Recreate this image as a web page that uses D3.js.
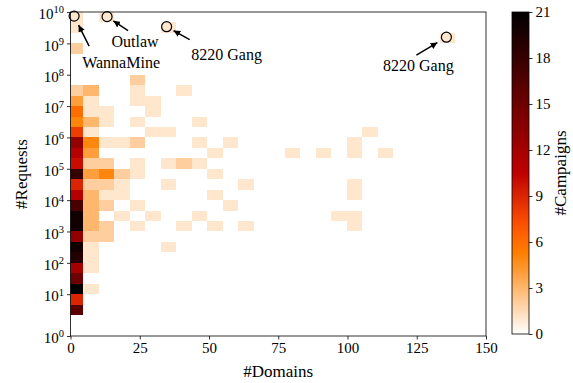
<!DOCTYPE html>
<html>
<head>
<meta charset="utf-8">
<script src="https://cdn.jsdelivr.net/npm/d3@7/dist/d3.min.js"></script>
<style>
  body { margin: 0; background: #fff; }
</style>
</head>
<body>
<svg id="chart" width="573" height="383" font-family="Liberation Serif"></svg>
<script>
// histogram bins: #Domains (linear) and log10(#Requests), three bins per decade
const xBinStart = -0.9, xBinWidth = 5.59;
const yBinStart = 1 / 3, yBinWidth = 1 / 3;

// campaign counts, one row per request bin (top row first), one column per domain bin
const counts = [
  [ 1,0,1,0,0,0,0,0,0,0,0,0,0,0,0,0,0,0,0,0,0,0,0,0,0],
  [ 1,0,0,0,0,0,1,0,0,0,0,0,0,0,0,0,0,0,0,0,0,0,0,0,0],
  [ 0,0,0,0,0,0,0,0,0,0,0,0,0,0,0,0,0,0,0,0,0,0,0,0,1],
  [ 2,0,0,0,0,0,0,0,0,0,0,0,0,0,0,0,0,0,0,0,0,0,0,0,0],
  [ 0,0,0,0,0,0,0,0,0,0,0,0,0,0,0,0,0,0,0,0,0,0,0,0,0],
  [ 0,0,0,0,0,0,0,0,0,0,0,0,0,0,0,0,0,0,0,0,0,0,0,0,0],
  [ 0,0,0,0,2,0,0,0,0,0,0,0,0,0,0,0,0,0,0,0,0,0,0,0,0],
  [ 2,3,0,0,1,0,0,1,0,0,0,0,0,0,0,0,0,0,0,0,0,0,0,0,0],
  [ 4,1,0,0,1,1,0,0,0,0,0,0,0,0,0,0,0,0,0,0,0,0,0,0,0],
  [ 6,1,1,0,0,1,0,0,0,0,0,0,0,0,0,0,0,0,0,0,0,0,0,0,0],
  [ 5,3,1,0,1,0,0,0,1,0,0,0,0,0,0,0,0,0,0,0,0,0,0,0,0],
  [ 8,1,0,0,0,1,1,0,0,0,0,0,0,0,0,0,0,0,0,1,0,0,0,0,0],
  [13,5,1,1,2,0,0,0,1,0,1,0,0,0,0,0,0,0,1,0,0,0,0,0,0],
  [11,4,0,0,0,0,0,0,0,1,0,0,0,0,1,0,1,0,1,0,1,0,0,0,0],
  [10,2,2,0,1,0,1,2,1,0,0,0,0,0,0,0,0,0,0,0,0,0,0,0,0],
  [18,4,5,2,1,0,0,0,0,1,0,0,0,0,0,0,0,0,0,0,0,0,0,0,0],
  [ 9,2,2,1,0,0,1,0,0,0,0,1,0,0,0,0,0,0,1,0,0,0,0,0,0],
  [11,3,1,1,0,0,0,0,0,1,0,0,0,0,0,0,0,0,1,0,0,0,0,0,0],
  [17,3,2,0,1,0,0,0,0,0,1,0,0,0,0,0,0,0,0,0,0,0,0,0,0],
  [20,3,0,1,0,1,0,0,1,0,0,0,0,0,0,0,0,1,1,0,0,0,0,0,0],
  [20,3,2,0,1,0,0,1,0,1,0,1,0,0,0,0,0,0,1,0,0,0,0,0,0],
  [13,2,2,0,0,0,0,0,0,0,0,0,0,0,0,0,0,0,0,0,0,0,0,0,0],
  [20,1,0,0,0,0,1,0,0,0,0,0,0,0,0,0,0,0,0,0,0,0,0,0,0],
  [19,1,0,0,0,0,0,0,0,0,0,0,0,0,0,0,0,0,0,0,0,0,0,0,0],
  [12,1,0,0,0,0,0,0,0,0,0,0,0,0,0,0,0,0,0,0,0,0,0,0,0],
  [15,0,0,0,0,0,0,0,0,0,0,0,0,0,0,0,0,0,0,0,0,0,0,0,0],
  [21,1,0,0,0,0,0,0,0,0,0,0,0,0,0,0,0,0,0,0,0,0,0,0,0],
  [ 9,0,0,0,0,0,0,0,0,0,0,0,0,0,0,0,0,0,0,0,0,0,0,0,0],
  [16,0,0,0,0,0,0,0,0,0,0,0,0,0,0,0,0,0,0,0,0,0,0,0,0]
];

// highlighted campaigns
const campaigns = ["WannaMine", "Outlaw", "8220 Gang", "8220 Gang"];
const campaignDomains = [1.3, 13.2, 34.7, 135.7];
const campaignRequests = [7.4e9, 7.1e9, 3.4e9, 1.57e9];

const xTicks = [0, 25, 50, 75, 100, 125, 150];
const yFloor = Math.pow(10, -1 / 3); // bottom of the axis, labelled 10^0
const yTicks = [yFloor, 1e1, 1e2, 1e3, 1e4, 1e5, 1e6, 1e7, 1e8, 1e9, 1e10];
const cTicks = [0, 3, 6, 9, 12, 15, 18, 21];
const cMax = 21;

// layout
const font = "Liberation Serif";
const plot = {left: 70.5, right: 486, top: 12, bottom: 336};
const bar = {left: 512, right: 529, top: 12, bottom: 334};
// label offsets (px) from each marker: text anchor and arrow tail
const notes = [
  {tx: 47, ty: 52, ax: 15, ay: 30},
  {tx: 28, ty: 30, ax: 21, ay: 14},
  {tx: 60, ty: 33, ax: 23, ay: 13},
  {tx: -28, ty: 34, ax: -30, ay: 18}
];

const svg = d3.select("#chart");

const x = d3.scaleLinear().domain([0, 150]).range([plot.left, plot.right]);
const y = d3.scaleLog().domain([yFloor, 1e10]).range([plot.bottom, plot.top]);

// gist_heat_r
const heat = t => {
  const s = 1 - t;
  const c = v => Math.round(255 * Math.max(0, Math.min(1, v)));
  return `rgb(${c(1.5 * s)},${c(2 * s - 1)},${c(4 * s - 3)})`;
};
const color = d3.scaleSequential(heat).domain([0, cMax]);

// flatten the grid into cells
const nRows = counts.length;
const cells = [];
counts.forEach((row, i) => {
  const j = nRows - 1 - i;
  row.forEach((n, k) => {
    if (n > 0) cells.push({k, j, n});
  });
});

svg.append("defs").append("clipPath").attr("id", "plotclip")
  .append("rect")
  .attr("x", plot.left).attr("y", plot.top)
  .attr("width", plot.right - plot.left).attr("height", plot.bottom - plot.top);

const yEdge = j => y(Math.pow(10, yBinStart + j * yBinWidth));
const xEdge = k => x(xBinStart + k * xBinWidth);

svg.append("g").attr("clip-path", "url(#plotclip)")
  .selectAll("rect").data(cells).join("rect")
  .attr("x", d => xEdge(d.k))
  .attr("y", d => yEdge(d.j + 1))
  .attr("width", d => xEdge(d.k + 1) - xEdge(d.k))
  .attr("height", d => yEdge(d.j) - yEdge(d.j + 1))
  .attr("fill", d => color(d.n))
  .attr("shape-rendering", "crispEdges");

// axes
const xAxis = svg.append("g")
  .attr("transform", `translate(0,${plot.bottom})`)
  .call(d3.axisBottom(x).tickValues(xTicks).tickSize(3.5).tickPadding(3));

const yAxis = svg.append("g")
  .attr("transform", `translate(${plot.left},0)`)
  .call(d3.axisLeft(y).tickValues(yTicks).tickSize(3.5).tickPadding(3).tickFormat(() => ""));
yAxis.selectAll(".tick text").each(function(d) {
  const t = d3.select(this).attr("dy", "0.45em");
  t.append("tspan").text("10");
  t.append("tspan").attr("dy", "-0.55em").attr("font-size", 10.5)
    .text(Math.max(0, Math.round(Math.log10(d))));
});

[xAxis, yAxis].forEach(g => {
  g.attr("font-family", font).attr("font-size", 15);
  g.select(".domain").remove();
  g.selectAll("line").attr("stroke", "#000").attr("stroke-width", 0.8);
});

svg.append("rect")
  .attr("x", plot.left).attr("y", plot.top)
  .attr("width", plot.right - plot.left).attr("height", plot.bottom - plot.top)
  .attr("fill", "none").attr("stroke", "#000").attr("stroke-width", 0.8);

svg.append("text")
  .attr("x", (plot.left + plot.right) / 2).attr("y", 377)
  .attr("text-anchor", "middle").attr("font-size", 17).attr("font-family", font)
  .text("#Domains");

svg.append("text")
  .attr("transform", `translate(27,${(plot.top + plot.bottom) / 2}) rotate(-90)`)
  .attr("text-anchor", "middle").attr("font-size", 17).attr("font-family", font)
  .text("#Requests");

// annotations
svg.append("defs").append("marker")
  .attr("id", "head").attr("viewBox", "0 0 10 10")
  .attr("refX", 10).attr("refY", 5)
  .attr("markerWidth", 4.5).attr("markerHeight", 4.5)
  .attr("orient", "auto")
  .append("path").attr("d", "M0,0L10,5L0,10z").attr("fill", "#000");

const marks = campaigns.map((name, i) => ({
  name, cx: x(campaignDomains[i]), cy: y(campaignRequests[i]), note: notes[i]
}));

svg.append("g").selectAll("circle").data(marks).join("circle")
  .attr("cx", d => d.cx).attr("cy", d => d.cy).attr("r", 5)
  .attr("fill", "none").attr("stroke", "#000").attr("stroke-width", 1.2);

svg.append("g").selectAll("line").data(marks).join("line")
  .attr("x1", d => d.cx + d.note.ax).attr("y1", d => d.cy + d.note.ay)
  .attr("x2", d => d.cx + d.note.ax * 0.3).attr("y2", d => d.cy + d.note.ay * 0.3)
  .attr("stroke", "#000").attr("stroke-width", 1.5)
  .attr("marker-end", "url(#head)");

svg.append("g").selectAll("text").data(marks).join("text")
  .attr("x", d => d.cx + d.note.tx).attr("y", d => d.cy + d.note.ty)
  .attr("text-anchor", "middle").attr("font-size", 16).attr("font-family", font)
  .text(d => d.name);

// colour bar
const cScale = d3.scaleLinear().domain([0, cMax]).range([bar.bottom, bar.top]);
const grad = svg.append("defs").append("linearGradient")
  .attr("id", "cbar").attr("x1", 0).attr("y1", 1).attr("x2", 0).attr("y2", 0);
grad.selectAll("stop").data(d3.range(0, 1.0001, 0.05)).join("stop")
  .attr("offset", d => d).attr("stop-color", d => heat(d));

svg.append("rect")
  .attr("x", bar.left).attr("y", bar.top)
  .attr("width", bar.right - bar.left).attr("height", bar.bottom - bar.top)
  .attr("fill", "url(#cbar)").attr("stroke", "#000").attr("stroke-width", 0.8);

const cAxis = svg.append("g")
  .attr("transform", `translate(${bar.right},0)`)
  .call(d3.axisRight(cScale).tickValues(cTicks).tickSize(3.5).tickPadding(3));
cAxis.attr("font-family", font).attr("font-size", 15);
cAxis.select(".domain").remove();
cAxis.selectAll("line").attr("stroke", "#000").attr("stroke-width", 0.8);

svg.append("text")
  .attr("transform", `translate(566,${(bar.top + bar.bottom) / 2}) rotate(-90)`)
  .attr("text-anchor", "middle").attr("font-size", 17).attr("font-family", font)
  .text("#Campaigns");
</script>
</body>
</html>
